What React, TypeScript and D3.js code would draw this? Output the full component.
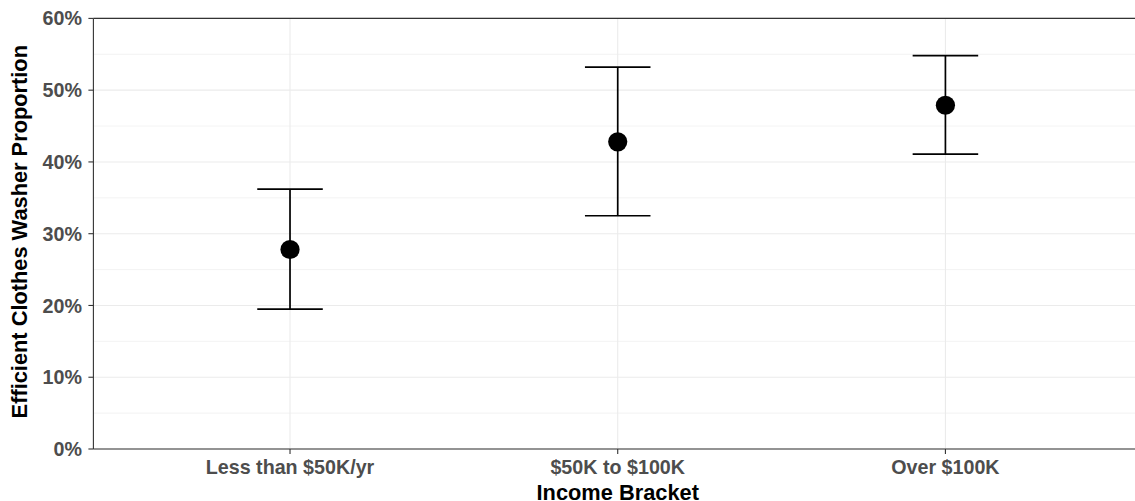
import React from "react";
import * as d3 from "d3";

const categories = ["Less than $50K/yr", "$50K to $100K", "Over $100K"];
const estimate = [0.278, 0.428, 0.479];
const lower = [0.195, 0.325, 0.411];
const upper = [0.362, 0.532, 0.548];
const yTicks = [0, 0.1, 0.2, 0.3, 0.4, 0.5, 0.6];
const yMinor = [0.05, 0.15, 0.25, 0.35, 0.45, 0.55];

const width = 1135;
const height = 501;
const left = 93.4;
const top = 18.4;
const bottom = 449;

function App() {
  const x = d3
    .scalePoint<string>()
    .domain(categories)
    .range([left, left + 3.2 * 327.7])
    .padding(0.6);
  const y = d3.scaleLinear().domain([0, 0.6]).range([bottom, top]);
  const fmt = d3.format(".0%");
  const halfCap = 0.1 * x.step();
  const [r0, r1] = x.range();

  const font = "'Liberation Sans', Arial, sans-serif";

  return (
    <svg
      width={width}
      height={height}
      style={{ position: "absolute", left: 0, top: 0 }}
      fontFamily={font}
    >
      <rect width={width} height={height} fill="#fff" />
      {yMinor.map((t) => (
        <line key={"m" + t} x1={left} x2={width} y1={y(t)} y2={y(t)} stroke="#ebebeb" strokeWidth={0.6} />
      ))}
      {yTicks.map((t) => (
        <line key={"g" + t} x1={left} x2={width} y1={y(t)} y2={y(t)} stroke="#ebebeb" strokeWidth={1.1} />
      ))}
      {categories.map((c) => (
        <line key={"v" + c} x1={x(c)} x2={x(c)} y1={top} y2={bottom} stroke="#ebebeb" strokeWidth={1.1} />
      ))}

      {/* axes */}
      <line x1={left} x2={width} y1={top} y2={top} stroke="#333" strokeWidth={1.1} />
      <line x1={left} x2={width} y1={bottom} y2={bottom} stroke="#333" strokeWidth={1.1} />
      <line x1={left} x2={left} y1={top} y2={bottom} stroke="#333" strokeWidth={1.1} />
      {yTicks.map((t) => (
        <g key={"yt" + t}>
          <line x1={left - 5} x2={left} y1={y(t)} y2={y(t)} stroke="#333" strokeWidth={1.1} />
          <text
            x={82}
            y={y(t)}
            dy="0.36em"
            textAnchor="end"
            fontSize={19.7}
            fontWeight="bold"
            fill="#4d4d4d"
          >
            {fmt(t)}
          </text>
        </g>
      ))}
      {categories.map((c) => (
        <g key={"xt" + c}>
          <line x1={x(c)} x2={x(c)} y1={bottom} y2={bottom + 5} stroke="#333" strokeWidth={1.1} />
          <text x={x(c)} y={474} textAnchor="middle" fontSize={19.7} fontWeight="bold" fill="#4d4d4d">
            {c}
          </text>
        </g>
      ))}

      {/* error bars and points */}
      {categories.map((c, i) => {
        const cx = x(c) as number;
        return (
          <g key={"e" + c} stroke="#000" strokeWidth={1.7}>
            <line x1={cx} x2={cx} y1={y(lower[i])} y2={y(upper[i])} />
            <line x1={cx - halfCap} x2={cx + halfCap} y1={y(lower[i])} y2={y(lower[i])} />
            <line x1={cx - halfCap} x2={cx + halfCap} y1={y(upper[i])} y2={y(upper[i])} />
            <circle cx={cx} cy={y(estimate[i])} r={9.6} fill="#000" stroke="none" />
          </g>
        );
      })}

      <text x={(r0 + r1) / 2} y={500} textAnchor="middle" fontSize={21.8} fontWeight="bold" fill="#000">
        Income Bracket
      </text>
      <text
        transform={`translate(27,${(top + bottom) / 2 - 2}) rotate(-90)`}
        textAnchor="middle"
        fontSize={21.8}
        fontWeight="bold"
        fill="#000"
      >
        Efficient Clothes Washer Proportion
      </text>
    </svg>
  );
}

export default App;
